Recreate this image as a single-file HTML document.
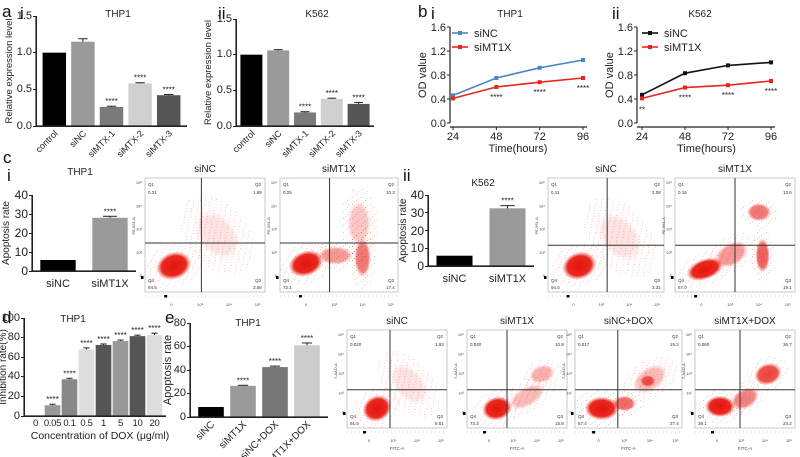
<!DOCTYPE html>
<html><head><meta charset="utf-8"><style>
html,body{margin:0;padding:0;background:#fff;}
#wrap{position:relative;width:800px;height:457px;overflow:hidden;}
svg{display:block;font-family:"Liberation Sans",Arial,sans-serif;position:absolute;left:0;top:0;}
#ticks{position:absolute;left:0;top:0;width:800px;height:457px;font-family:"Liberation Sans",Arial,sans-serif;color:#222;z-index:5;pointer-events:none;}
#ticks div.t{position:absolute;text-align:right;width:24px;line-height:1;}
#ticks div.ax{position:absolute;background:#222;}
</style></head><body>
<div id="wrap">
<svg id="fig" width="800" height="457" viewBox="0 0 800 457" xmlns="http://www.w3.org/2000/svg">
<defs>
<radialGradient id="dot"><stop offset="0" stop-color="#e3140c" stop-opacity="1"/><stop offset="0.7" stop-color="#e81d14" stop-opacity="0.95"/><stop offset="1" stop-color="#ee4a40" stop-opacity="0"/></radialGradient>
<pattern id="speck" width="9" height="7" patternUnits="userSpaceOnUse">
<rect x="1" y="1" width="1" height="1" fill="#e83028"/><rect x="5" y="4" width="1" height="1" fill="#e83028"/><rect x="3" y="6" width="1" height="1" fill="#f07068"/><rect x="7" y="2" width="1" height="1" fill="#f07068"/>
</pattern>
</defs>
<g font-size="17" fill="#111">
<text x="2" y="17">a</text><text x="20" y="19">i</text><text x="218" y="19">ii</text>
<text x="418" y="17">b</text><text x="431" y="19">i</text><text x="612" y="19">ii</text>
<text x="3" y="163">c</text><text x="7" y="181">i</text><text x="403" y="181">ii</text>
<text x="2" y="323">d</text><text x="165" y="323">e</text>
</g>
<g id="static-axes" stroke="#222" stroke-width="1.2">
<line x1="36" y1="126" x2="36" y2="16"/><line x1="36" y1="126" x2="187" y2="126"/>
<line x1="236" y1="126" x2="236" y2="19"/><line x1="236" y1="126" x2="374" y2="126"/>
<line x1="32" y1="271" x2="32" y2="195"/><line x1="32" y1="271" x2="136" y2="271"/>
<line x1="428" y1="266" x2="428" y2="195"/><line x1="428" y1="266" x2="534" y2="266"/>
<line x1="24" y1="416" x2="24" y2="318"/><line x1="24" y1="416" x2="166" y2="416"/>
<line x1="190" y1="417" x2="190" y2="323"/><line x1="190" y1="417" x2="328" y2="417"/>
</g>
</svg>
<div id="ticks"></div>
</div>
<script>
// ---------- data ----------
const aCats=["control","siNC","siMTX-1","siMTX-2","siMTX-3"];
const aThpVals=[1.0,1.15,0.26,0.58,0.42];
const aThpErr=[0,0.04,0.01,0.01,0.01];
const aK562Vals=[1.0,1.06,0.19,0.38,0.31];
const aK562Err=[0,0.01,0.01,0.01,0.02];
const aSig=["","","****","****","****"];
const aTicks=[0,0.5,1.0,1.5];
const bTimes=[24,48,72,96];
const bThpNC=[0.46,0.75,0.92,1.05];
const bThpMT=[0.41,0.60,0.68,0.75];
const bK562NC=[0.47,0.83,0.96,1.01];
const bK562MT=[0.41,0.59,0.63,0.70];
const bSigThp=["","****","****","****"];
const bSigK562=["**","****","****","****"];
const bTicks=[0,0.4,0.8,1.2,1.6];
const cCats=["siNC","siMT1X"];
const cThpVals=[5.8,28];
const cThpErr=[0,0.8];
const cK562Vals=[5.8,32.5];
const cK562Err=[0,1.5];
const cSig=["","****"];
const cTicks=[0,10,20,30,40];
const dCats=["0","0.05","0.1","0.5","1","5","10","20"];
const dVals=[0.5,11,37.5,68,72.5,76.5,81.5,82.5];
const dErr=[0,1,1,1.5,1,1,1,2];
const dSig=["","****","****","****","****","****","****","****"];
const dTicks=[0,20,40,60,80,100];
const eCats=["siNC","siMT1X","siNC+DOX","siMT1X+DOX"];
const eVals=[8.5,26.5,42.5,61];
const eErr=[0,0.5,0.8,2];
const eSig=["","****","****","****"];
const eTicks=[0,20,40,60,80];

const svg=document.getElementById('fig');
const axesLayer=document.getElementById('static-axes');
const tickLayer=document.getElementById('ticks');
const NS="http://www.w3.org/2000/svg";
function el(tag,attrs,parent,txt){const e=document.createElementNS(NS,tag);for(const k in attrs)e.setAttribute(k,String(attrs[k]));if(txt!==undefined)e.textContent=String(txt);(parent||svg).appendChild(e);return e;}
function grp(name){const g=document.createElementNS(NS,'g');svg.insertBefore(g,axesLayer);return g;}

// HTML tick labels + tick marks (overlay)
function htmlTicks(o){
  o.ticks.forEach(tv=>{
    const yy=o.y0-(tv/o.ymax)*(o.y0-o.y1);
    const d=document.createElement('div');
    d.className='t';
    
    
    d.style.left=(o.ax-4-24)+'px';
    d.style.top=(yy-(o.fs||11)*0.5)+'px';
    d.style.fontSize=(o.fs||11)+'px';
    d.textContent=o.dec?tv.toFixed(o.dec):String(tv);
    tickLayer.appendChild(d);
    const m=document.createElement('div');
    m.className='ax';
    
    
    m.style.left=(o.ax-3)+'px';m.style.top=(yy-0.5)+'px';m.style.width='3px';m.style.height='1px';
    tickLayer.appendChild(m);
  });
  const v=document.createElement('div');v.className='ax';
  
  
  v.style.left=(o.ax-0.5)+'px';v.style.top=o.y1+'px';v.style.width='1.2px';v.style.height=(o.y0-o.y1)+'px';
  tickLayer.appendChild(v);
  const hz=document.createElement('div');hz.className='ax';
  
  
  hz.style.left=o.ax+'px';hz.style.top=(o.y0-0.5)+'px';hz.style.width=(o.xend-o.ax)+'px';hz.style.height='1.2px';
  tickLayer.appendChild(hz);
}

// ---------- bar chart ----------
function barChart(o){
  const g=grp(o.name);
  const ys=v=>o.y0-(v/o.ymax)*(o.y0-o.y1);
  const n=o.vals.length, band=(o.xend-o.ax-o.pad)/n;
  o.vals.forEach((v,i)=>{
    const cx=o.ax+o.pad/2+band*(i+0.5), w=band*o.bw;
    const r=el('rect',{x:cx-w/2,y:ys(v),width:w,height:o.y0-ys(v),fill:o.colors[i]},g);
    
    if(o.errs[i]>0){const ye=ys(v+o.errs[i]);
      el('line',{x1:cx,y1:ys(v),x2:cx,y2:ye,stroke:'#222'},g);
      el('line',{x1:cx-w*0.2,y1:ye,x2:cx+w*0.2,y2:ye,stroke:'#222'},g);}
    if(o.sig[i]){el('text',{x:cx,y:ys(v+o.errs[i])-2,'text-anchor':'middle','font-size':8,fill:'#222'},g,o.sig[i]);}
    if(o.rot){const lx=cx+4,ly=o.y0+8;
      const t=el('text',{x:lx,y:ly,'text-anchor':'end','font-size':o.lfs||10,fill:'#222',transform:'rotate(-45 '+lx+' '+ly+')'},g,o.cats[i]);
      }
    else{const t=el('text',{x:cx,y:o.y0+o.ldy,'text-anchor':'middle','font-size':o.lfs||11,fill:'#222','letter-spacing':o.ls||0},g,o.cats[i]);
      }
  });
  const tt=el('text',{x:o.tx,y:o.ty,'text-anchor':'middle','font-size':10,fill:'#222'},g,o.title);
  
  const my=(o.y0+o.y1)/2;
  const yl=el('text',{x:o.ylx,y:my,'text-anchor':'middle','font-size':o.ylfs||10,fill:'#222',transform:'rotate(-90 '+o.ylx+' '+my+')'},g,o.ylabel);
  
  htmlTicks(o);
}
barChart({name:'chart-a-thp1',cats:aCats,vals:aThpVals,errs:aThpErr,sig:aSig,colors:['#000','#9a9a9a','#7a7a7a','#d0d0d0','#555'],
 ax:36,xend:187,pad:8,bw:0.82,y0:126,y1:16,ymax:1.5,ticks:aTicks,dec:1,rot:true,lfs:9,title:'THP1',tx:118,ty:17,ylabel:'Relative expression level',ylx:12,ylfs:9.5});
barChart({name:'chart-a-k562',cats:aCats,vals:aK562Vals,errs:aK562Err,sig:aSig,colors:['#000','#9a9a9a','#7a7a7a','#d0d0d0','#555'],
 ax:236,xend:374,pad:4,bw:0.82,y0:126,y1:19,ymax:1.5,ticks:aTicks,dec:1,rot:true,lfs:9,title:'K562',tx:317,ty:17,ylabel:'Relative expression level',ylx:211,ylfs:9.5});
barChart({name:'chart-c-thp1',cats:cCats,vals:cThpVals,errs:cThpErr,sig:cSig,colors:['#000','#9a9a9a'],
 ax:32,xend:136,pad:0,bw:0.68,y0:271,y1:195,ymax:40,ticks:cTicks,fs:12,ldy:16,title:'THP1',tx:80,ty:175,ylabel:'Apoptosis rate',ylx:9});
barChart({name:'chart-c-k562',cats:cCats,vals:cK562Vals,errs:cK562Err,sig:cSig,colors:['#000','#9a9a9a'],
 ax:428,xend:534,pad:0,bw:0.68,y0:266,y1:195,ymax:40,ticks:cTicks,fs:12,ldy:16,title:'K562',tx:483,ty:186,ylabel:'Apoptosis rate',ylx:406});
barChart({name:'chart-d-dox',cats:dCats,vals:dVals,errs:dErr,sig:dSig,colors:['#bbb','#999','#888','#ddd','#555','#999','#555','#ddd'],
 ax:24,xend:166,pad:6,bw:0.92,y0:416,y1:318,ymax:100,ticks:dTicks,ldy:10,lfs:9.5,ls:-0.3,title:'THP1',tx:73,ty:322,ylabel:'Inhibition rate(%)',ylx:6});
barChart({name:'chart-e-apoptosis',cats:eCats,vals:eVals,errs:eErr,sig:eSig,colors:['#000','#9a9a9a','#777','#ccc'],
 ax:190,xend:328,pad:10,bw:0.8,y0:417,y1:323,ymax:80,ticks:eTicks,rot:true,lfs:10,title:'THP1',tx:248,ty:326,ylabel:'Apoptosis rate',ylx:171,ylfs:11});
{const t=el('text',{x:100,y:439,'text-anchor':'middle','font-size':10.5,fill:'#222'},undefined,'Concentration of DOX (μg/ml)');
 }

// ---------- line charts ----------
function lineChart(o){
  const g=grp(o.name);
  const xs=t=>o.xa+(t-24)/(72)*(o.xb-o.xa), ys=v=>o.y0-(v/1.6)*(o.y0-o.y1);
  el('line',{x1:o.ax,y1:o.y0,x2:o.ax,y2:o.y1,stroke:'#222','stroke-width':1.2},g);
  el('line',{x1:o.ax,y1:o.y0+4,x2:o.xb+4,y2:o.y0+4,stroke:'#222','stroke-width':1.2},g);
  bTicks.forEach(t=>{const y=ys(t);el('line',{x1:o.ax-3,y1:y,x2:o.ax,y2:y,stroke:'#222'},g);
    const tx=el('text',{x:o.ax-4,y:y+4,'text-anchor':'end','font-size':11,fill:'#222'},g,t.toFixed(1));
    });
  bTimes.forEach(t=>{const x=xs(t);el('line',{x1:x,y1:o.y0+4,x2:x,y2:o.y0+7,stroke:'#222'},g);
    const tx=el('text',{x:x,y:o.y0+17,'text-anchor':'middle','font-size':11,fill:'#222'},g,t);
    });
  [[o.nc,o.ncCol,'siNC'],[o.mt,'#e8251e','siMT1X']].forEach(([d,c,n])=>{
    const p=el('polyline',{points:bTimes.map((t,i)=>xs(t)+','+ys(d[i])).join(' '),fill:'none',stroke:c,'stroke-width':1.6},g);
    
    bTimes.forEach((t,i)=>{const pt=el('rect',{x:xs(t)-2,y:ys(d[i])-2,width:4,height:4,fill:c},g);
      });
  });
  o.sig.forEach((s,i)=>{if(s)el('text',{x:xs(bTimes[i]),y:ys(o.mt[i])+(i==0?14:13),'text-anchor':'middle','font-size':8,fill:'#222'},g,s);});
  [[o.ncCol,'siNC',33],['#e8251e','siMT1X',47]].forEach(([c,n,y])=>{
    const le=document.createElementNS(NS,'g');g.appendChild(le);
    
    
    el('line',{x1:o.lx,y1:y,x2:o.lx+16,y2:y,stroke:c,'stroke-width':1.6},le);
    el('rect',{x:o.lx+6,y:y-2,width:4,height:4,fill:c},le);
    el('text',{x:o.lx+22,y:y+4,'font-size':11,fill:'#222'},le,n);});
  el('text',{x:o.tx,y:17,'text-anchor':'middle','font-size':10,fill:'#222'},g,o.title);
  const xl=el('text',{x:(o.xa+o.xb)/2,y:o.y0+29,'text-anchor':'middle','font-size':11,fill:'#222'},g,'Time(hours)');
  
  const yl=el('text',{x:o.ax-24,y:(o.y0+o.y1)/2,'text-anchor':'middle','font-size':11,fill:'#222',transform:`rotate(-90 ${o.ax-24} ${(o.y0+o.y1)/2})`},g,'OD value');
  
}
lineChart({name:'chart-b-thp1',nc:bThpNC,mt:bThpMT,ncCol:'#4a86c8',sig:bSigThp,ax:450,xa:453,xb:583,y0:123,y1:27,lx:452,tx:510,title:'THP1'});
lineChart({name:'chart-b-k562',nc:bK562NC,mt:bK562MT,ncCol:'#111',sig:bSigK562,ax:637,xa:642,xb:771,y0:123,y1:27,lx:642,tx:700,title:'K562'});

// ---------- flow cytometry plots ----------
function flow(o){
  const g=grp(o.name);
  const w=o.x1-o.x0,h=o.y1-o.y0;
  el('rect',{x:o.x0,y:o.y0,width:w,height:h,fill:'#fff',stroke:'#bbb','stroke-width':0.8},g);
  const clipId='clip-'+o.name;
  const cp=el('clipPath',{id:clipId},g);el('rect',{x:o.x0,y:o.y0,width:w,height:h},cp);
  const inner=el('g',{'clip-path':'url(#'+clipId+')'},g);
  o.blobs.forEach(b=>{
    const cx=o.x0+b[0]*w, cy=o.y0+b[1]*h, rot='rotate('+(b[4]||0)+' '+cx+' '+cy+')';
    el('ellipse',{cx:cx,cy:cy,rx:b[2]*w*1.6,ry:b[3]*h*1.6,fill:'url(#speck)',opacity:0.35,transform:rot},inner);
    el('ellipse',{cx:cx,cy:cy,rx:b[2]*w,ry:b[3]*h,fill:'url(#dot)',opacity:b[5]||1,transform:rot},inner);});
  const vx=o.x0+o.vx*w, hy=o.y0+o.hy*h;
  el('line',{x1:vx,y1:o.y0,x2:vx,y2:o.y1,stroke:'#333','stroke-width':1},g);
  el('line',{x1:o.x0,y1:hy,x2:o.x1,y2:hy,stroke:'#333','stroke-width':1},g);
  const fs=4.5;
  el('text',{x:o.x0+3,y:o.y0+8,'font-size':fs,fill:'#333'},g,'Q1');
  el('text',{x:o.x0+3,y:o.y0+16,'font-size':fs,fill:'#333'},g,o.q[0]);
  el('text',{x:o.x1-10,y:o.y0+8,'font-size':fs,fill:'#333'},g,'Q2');
  el('text',{x:o.x1-12,y:o.y0+16,'font-size':fs,fill:'#333'},g,o.q[1]);
  el('text',{x:o.x0+3,y:o.y1-10,'font-size':fs,fill:'#333'},g,'Q4');
  el('text',{x:o.x0+3,y:o.y1-3,'font-size':fs,fill:'#333'},g,o.q[3]);
  el('text',{x:o.x1-10,y:o.y1-10,'font-size':fs,fill:'#333'},g,'Q3');
  el('text',{x:o.x1-12,y:o.y1-3,'font-size':fs,fill:'#333'},g,o.q[2]);
  ['10⁵','10⁴','10³','10²','0'].forEach((t,i)=>el('text',{x:o.x0-3,y:o.y0+6+i*(h-14)/4.3,'text-anchor':'end','font-size':4,fill:'#444'},g,t));
  el('rect',{x:o.x0-4,y:o.y1-16,width:2.5,height:3,fill:'#000'},g);
  ['0','10³','10⁴','10⁵'].forEach((t,i)=>el('text',{x:o.x0+w*(0.22+i*0.24),y:o.y1+14,'text-anchor':'middle','font-size':4,fill:'#444'},g,t));
  el('line',{x1:o.x0,y1:o.y1+4,x2:o.x1,y2:o.y1+4,stroke:'#999','stroke-width':0.5,'stroke-dasharray':'1 3'},g);
  el('rect',{x:o.x0+w*0.16,y:o.y1+3,width:3,height:2.5,fill:'#000'},g);
  el('text',{x:o.x0-10,y:o.y0+h*0.42,'text-anchor':'middle','font-size':4,fill:'#444',transform:'rotate(-90 '+(o.x0-10)+' '+(o.y0+h*0.42)+')'},g,o.yl);
  if(o.xl)el('text',{x:(o.x0+o.x1)/2,y:o.y1+22,'text-anchor':'middle','font-size':4.5,fill:'#444'},g,'FITC-A');
  const t=el('text',{x:(o.x0+o.x1)/2,y:o.y0-6,'text-anchor':'middle','font-size':10,fill:'#222'},g,o.title);
  
}
flow({name:'flow-c-thp1-sinc',x0:145,x1:265,y0:178,y1:292,vx:0.47,hy:0.57,q:['0.21','1.69','3.58','94.5'],title:'siNC',yl:'PE-561-A',blobs:[[0.24,0.77,0.15,0.12,-20],[0.6,0.5,0.16,0.25,-40,0.12]]});
flow({name:'flow-c-thp1-simt1x',x0:280,x1:398,y0:178,y1:292,vx:0.42,hy:0.57,q:['0.25','10.3','17.4','72.1'],title:'siMT1X',yl:'PE-561-A',blobs:[[0.22,0.75,0.15,0.11,-20],[0.47,0.68,0.15,0.08,0,0.45],[0.7,0.7,0.07,0.17,0,0.6],[0.67,0.4,0.1,0.2,0,0.25]]});
flow({name:'flow-c-k562-sinc',x0:548,x1:664,y0:178,y1:292,vx:0.51,hy:0.59,q:['0.11','2.08','3.31','94.5'],title:'siNC',yl:'PE-561-A',blobs:[[0.27,0.77,0.15,0.12,-20],[0.62,0.52,0.16,0.25,-40,0.12]]});
flow({name:'flow-c-k562-simt1x',x0:675,x1:795,y0:178,y1:292,vx:0.5,hy:0.59,q:['0.16','13.6','19.1','67.0'],title:'siMT1X',yl:'PE-561-A',blobs:[[0.25,0.8,0.16,0.09,-20],[0.47,0.67,0.15,0.1,-30,0.45],[0.73,0.68,0.06,0.15,0,0.7],[0.7,0.3,0.1,0.08,0,0.6]]});
flow({name:'flow-e-sinc',x0:347,x1:447,y0:330,y1:428,vx:0.43,hy:0.61,q:['0.020','1.93','6.51','91.5'],title:'siNC',yl:'7-AAD-A',xl:1,blobs:[[0.3,0.8,0.15,0.13,-30],[0.62,0.55,0.15,0.25,-40,0.12]]});
flow({name:'flow-e-simt1x',x0:467,x1:567,y0:330,y1:428,vx:0.4,hy:0.61,q:['0.040','10.9','15.8','73.3'],title:'siMT1X',yl:'7-AAD-A',xl:1,blobs:[[0.3,0.8,0.15,0.12,-15],[0.6,0.68,0.2,0.1,-30,0.3],[0.75,0.45,0.13,0.09,-20,0.35]]});
flow({name:'flow-e-sinc-dox',x0:575,x1:682,y0:330,y1:428,vx:0.4,hy:0.61,q:['0.017','15.2','27.4','57.4'],title:'siNC+DOX',yl:'7-AAD-A',xl:1,blobs:[[0.25,0.8,0.16,0.12,0],[0.46,0.75,0.11,0.08,0,0.65],[0.7,0.5,0.18,0.12,-35,0.3],[0.68,0.52,0.07,0.06,0,0.7]]});
flow({name:'flow-e-simt1x-dox',x0:695,x1:795,y0:330,y1:428,vx:0.45,hy:0.61,q:['0.060','36.7','24.2','39.1'],title:'siMT1X+DOX',yl:'7-AAD-A',xl:1,blobs:[[0.25,0.78,0.15,0.11,0],[0.5,0.7,0.15,0.1,-30,0.55],[0.73,0.45,0.14,0.11,-20,0.8]]});
</script>
</body></html>
